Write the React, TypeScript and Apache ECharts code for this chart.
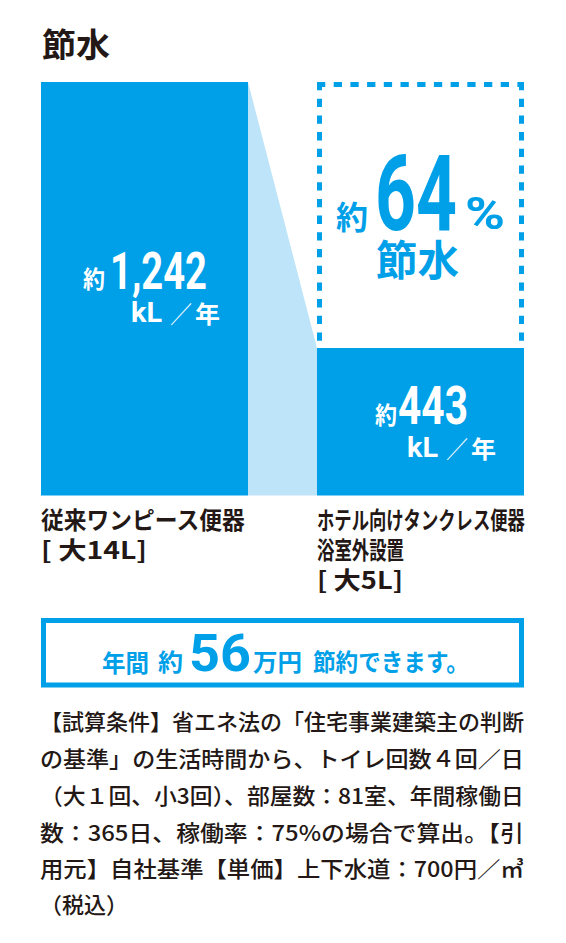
import React, { useEffect, useRef } from "react";
import * as echarts from "echarts";

// ---- data ----
const categories = ["従来ワンピース便器", "ホテル向けタンクレス便器"];
const categoryLines = [
  ["従来ワンピース便器", "[ 大14L]"],
  ["ホテル向けタンクレス便器", "浴室外設置", "[ 大5L]"],
];
const waterUsage = [1242, 443]; // kL / 年
const unitLabel = ["kL", "／", "年"];
const savingRate = 64; // %
const yearlySavingManYen = 56;
const title = "節水";
const footnoteLines = [
  "【試算条件】省エネ法の「住宅事業建築主の判断",
  "の基準」の生活時間から、トイレ回数４回／日",
  "（大１回、小3回）、部屋数：81室、年間稼働日",
  "数：365日、稼働率：75%の場合で算出。【引",
  "用元】自社基準【単価】上下水道：700円／㎥",
  "（税込）",
];

const BLUE = "#00a0e9";
const LIGHT = "#bde4f8";
const DARK = "#231815";
const CJK = '"Noto Sans CJK JP", "Noto Sans", sans-serif';
const NUM = 'Roboto, "Liberation Sans", sans-serif';

let measureCtx: CanvasRenderingContext2D | null = null;
function measure(text: string, size: number, weight: string | number, family: string) {
  if (!measureCtx) measureCtx = document.createElement("canvas").getContext("2d");
  if (!measureCtx) return text.length * size;
  measureCtx.font = `${weight} ${size}px ${family}`;
  return measureCtx.measureText(text).width;
}

function txt(
  text: string,
  x: number,
  cy: number,
  size: number,
  opts: { w?: number; color?: string; weight?: string | number; family?: string } = {}
) {
  const weight = opts.weight ?? "bold";
  const family = opts.family ?? CJK;
  const natural = measure(text, size, weight, family);
  const sx = opts.w ? opts.w / natural : 1;
  return {
    type: "text",
    x,
    y: cy,
    scaleX: sx,
    z: 100,
    silent: true,
    style: {
      text,
      x: 0,
      y: 0,
      fill: opts.color ?? DARK,
      fontSize: size,
      fontWeight: weight,
      fontFamily: family,
      align: "left",
      verticalAlign: "middle",
      textAlign: "left",
      textVerticalAlign: "middle",
    },
  };
}

const BAR_W = 207;

export default function App() {
  const ref = useRef<HTMLDivElement>(null);
  useEffect(() => {
    if (!ref.current) return;
    const chart = echarts.init(ref.current, undefined, { renderer: "svg" });
    const fmt = (v: number) => v.toLocaleString("en-US");

    const graphics: any[] = [];
    graphics.push(txt(title, 42, 43, 33, { w: 68 }));
    // left bar value
    graphics.push(txt("約", 83, 278, 24, { w: 22, color: "#fff" }));
    graphics.push(txt(fmt(waterUsage[0]), 110, 271.5, 52, { w: 97, color: "#fff", family: NUM }));
    graphics.push(txt(unitLabel[0], 131, 313, 27, { w: 31, color: "#fff", family: NUM }));
    graphics.push(txt(unitLabel[1], 170, 313, 24, { w: 22, color: "#fff", weight: "normal" }));
    graphics.push(txt(unitLabel[2], 195, 313, 24, { w: 25, color: "#fff" }));
    // right bar value
    graphics.push(txt("約", 375, 414, 24, { w: 22, color: "#fff" }));
    graphics.push(txt(fmt(waterUsage[1]), 398, 406, 53, { w: 70, color: "#fff", family: NUM }));
    graphics.push(txt(unitLabel[0], 407, 448, 27, { w: 31, color: "#fff", family: NUM }));
    graphics.push(txt(unitLabel[1], 446, 448, 24, { w: 22, color: "#fff", weight: "normal" }));
    graphics.push(txt(unitLabel[2], 471, 448, 24, { w: 25, color: "#fff" }));
    // saving rate
    graphics.push(txt("約", 336, 215, 32, { w: 32, color: BLUE }));
    graphics.push(txt(String(savingRate), 375, 194.5, 105, { w: 82, color: BLUE, family: NUM }));
    graphics.push(txt("%", 465, 214, 44, { w: 40, color: BLUE, family: NUM }));
    graphics.push(txt("節水", 376, 258, 42, { w: 83, color: BLUE }));
    // category labels
    const lineY = [518.5, 549, 578.5];
    const lineW = [
      [205, 106],
      [208, 87, 86],
    ];
    const barLeft = [41, 317];
    categoryLines.forEach((lines, ci) =>
      lines.forEach((l, li) => graphics.push(txt(l, barLeft[ci], lineY[li], 24, { w: lineW[ci][li] })))
    );
    // savings box
    graphics.push({
      type: "rect",
      z: 50,
      shape: { x: 43.5, y: 620.5, width: 478, height: 64.5 },
      style: { fill: "#fff", stroke: BLUE, lineWidth: 5 },
    });
    graphics.push(txt("年間", 102, 661, 24, { w: 47, color: BLUE }));
    graphics.push(txt("約", 158, 661, 24, { w: 25, color: BLUE }));
    graphics.push(txt(String(yearlySavingManYen), 189, 653.5, 52, { w: 62, color: BLUE, family: NUM }));
    graphics.push(txt("万円", 253, 661, 24, { w: 49, color: BLUE }));
    graphics.push(txt("節約できます。", 313, 661, 24, { w: 156, color: BLUE }));
    // footnote
    const fy = [720, 757, 794, 831, 867.5, 903];
    footnoteLines.forEach((l, i) =>
      graphics.push(
        txt(l, 40, fy[i], 22, { w: i < footnoteLines.length - 1 ? 484 : undefined, weight: 500 })
      )
    );

    chart.setOption({
      animation: false,
      backgroundColor: "#fff",
      grid: { left: 6.5, width: 552, top: 82, bottom: 447.5 },
      xAxis: { type: "category", data: categories, show: false },
      yAxis: { type: "value", min: 0, max: Math.max(...waterUsage), show: false },
      series: [
        {
          type: "custom",
          z: 1,
          silent: true,
          data: [[0, waterUsage[0], 1, waterUsage[1]]],
          encode: { x: 0, y: 1 },
          renderItem: (_params: any, api: any) => {
            const hw = BAR_W / 2;
            const p0 = api.coord([api.value(0), api.value(1)]);
            const p1 = api.coord([api.value(2), api.value(3)]);
            const base = api.coord([api.value(0), 0])[1];
            const bx = p1[0] - hw;
            const ex = p1[0] + hw;
            const dash = { stroke: BLUE, lineWidth: 5, lineDash: [8.3, 8.4], fill: null };
            return {
              type: "group",
              children: [
                {
                  type: "polygon",
                  shape: {
                    points: [
                      [p0[0] + hw, p0[1]],
                      [bx, p1[1]],
                      [bx, base],
                      [p0[0] + hw, base],
                    ],
                  },
                  style: { fill: LIGHT },
                },
                {
                  type: "line",
                  shape: { x1: bx, y1: p0[1] + 2.5, x2: ex, y2: p0[1] + 2.5 },
                  style: dash,
                },
                {
                  type: "line",
                  shape: { x1: bx + 2.5, y1: p0[1], x2: bx + 2.5, y2: p1[1] },
                  style: dash,
                },
                {
                  type: "line",
                  shape: { x1: ex - 2.5, y1: p0[1], x2: ex - 2.5, y2: p1[1] },
                  style: dash,
                },
              ],
            };
          },
        },
        {
          type: "bar",
          z: 2,
          silent: true,
          barWidth: BAR_W,
          data: waterUsage,
          itemStyle: { color: BLUE },
        },
      ],
      graphic: graphics,
    });
    return () => chart.dispose();
  }, []);
  return (
    <div
      ref={ref}
      style={{ position: "absolute", left: 0, top: 0, width: 566, height: 943, background: "#fff" }}
    />
  );
}
